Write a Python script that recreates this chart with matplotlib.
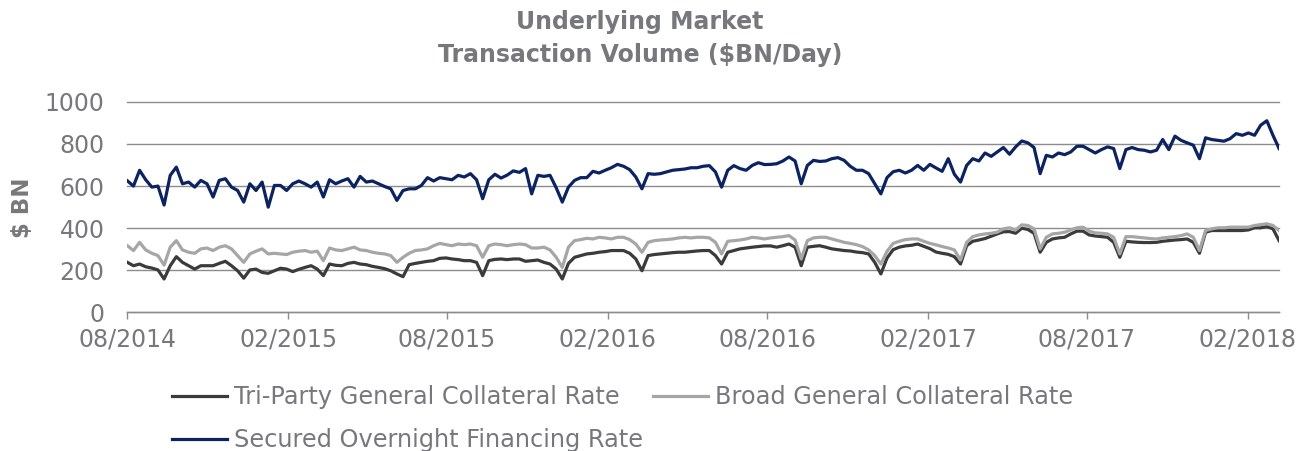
import matplotlib
matplotlib.use('Agg')
import matplotlib.pyplot as plt
import matplotlib.dates as mdates
import pandas as pd

# ---------------- data (weekly) ----------------
dates = pd.date_range('2014-08-01', '2018-03-09', freq='7D')

sofr = [625, 600, 675, 630, 595, 600, 510, 651, 690, 611, 619, 595, 627, 611, 548, 627,
        635, 595, 579, 524, 611, 579, 619, 500, 603, 603, 579, 611, 624, 611, 595, 619,
        548, 630, 611, 624, 635, 595, 646, 619, 624, 611, 598, 587, 532, 579, 587, 587,
        603, 640, 624, 640, 635, 630, 651, 643, 659, 630, 540, 630, 656, 638, 652, 672,
        665,
        683, 563, 651, 646, 651, 592, 524, 595, 627, 640, 640, 670, 662, 675, 687, 703,
        694, 678, 643, 587, 659, 656, 659, 667, 675, 678, 681, 687, 687, 694, 697, 667,
        595, 675, 697, 683, 675, 698, 711, 702, 703, 706, 719, 738, 719, 611, 698, 722,
        717, 719, 730, 735, 722, 694, 675, 675, 659, 611, 563, 640, 668, 675,
        662, 675, 698, 675, 703, 686, 670, 730, 656, 619, 698, 730, 719, 757, 741, 762,
        783, 751, 786, 814, 805, 783, 659, 746, 738, 757, 749, 762, 789, 789, 773, 757,
        773, 786, 778, 683, 773, 783, 773, 770, 762, 770, 821, 773, 837, 817, 805, 794,
        730, 829, 821, 817, 813, 825, 849, 841, 852, 841, 889, 910, 841, 778]

tgcr = [238, 222, 230, 217, 211, 202, 159, 222, 265, 238, 222, 206, 222, 222, 222, 233,
        243, 222, 198, 163, 202, 206, 190, 186, 198, 210, 206, 194, 205, 214, 222, 206,
        175, 230, 224, 222, 233, 238, 230, 227, 219, 214, 208, 198, 183, 170, 227, 233,
        238, 243, 246, 257, 259, 254, 251, 246, 246, 238, 175, 246, 252, 254, 251, 254,
        254,
        243, 246, 249, 238, 230, 206, 159, 233, 262, 270, 278, 281, 286, 289, 294, 294,
        294, 281, 254, 198, 270, 275, 278, 281, 284, 286, 286, 289, 292, 294, 294, 270,
        230, 286, 294, 302, 306, 310, 313, 316, 316, 310, 317, 325, 310, 222, 310, 314,
        317, 310, 302, 298, 294, 292, 287, 284, 278, 238, 183, 258, 298, 310,
        316, 319, 325, 314, 303, 287, 281, 276, 265, 230, 317, 338, 344, 351, 362, 373,
        383, 384, 376, 400, 394, 376, 286, 333, 349, 354, 357, 373, 386, 386, 368, 363,
        360, 357, 333, 262, 338, 335, 333, 332, 332, 333, 338, 341, 344, 346, 349, 333,
        281, 381, 389, 389, 389, 389, 389, 389, 392, 402, 402, 408, 397, 341]

bgcr = [317, 294, 333, 297, 281, 270, 225, 310, 341, 297, 286, 281, 302, 306, 294, 310,
        317, 302, 270, 238, 278, 291, 302, 278, 281, 278, 275, 286, 291, 294, 286, 291,
        246, 306, 297, 294, 302, 310, 297, 294, 286, 281, 278, 270, 238, 262, 281, 294,
        297, 302, 317, 328, 322, 317, 325, 322, 325, 317, 262, 317, 325, 322, 317, 322,
        325,
        322, 306, 306, 310, 297, 262, 214, 310, 341, 346, 352, 349, 357, 354, 349, 357,
        357, 346, 325, 286, 333, 341, 344, 346, 349, 354, 357, 354, 357, 357, 354, 333,
        278, 338, 341, 344, 349, 357, 354, 349, 354, 357, 360, 365, 344, 254, 341, 354,
        357, 357, 349, 341, 333, 328, 322, 313, 297, 270, 230, 290, 328, 338,
        346, 349, 349, 338, 328, 321, 313, 306, 297, 249, 333, 360, 368, 373, 376, 381,
        397, 402, 392, 416, 413, 397, 302, 357, 373, 376, 381, 392, 402, 405, 386, 378,
        376, 373, 357, 278, 360, 360, 357, 354, 351, 349, 354, 357, 360, 365, 373, 357,
        294, 389, 397, 402, 402, 405, 405, 405, 405, 413, 417, 421, 413, 389]

series_labels = ['Tri-Party General Collateral Rate',
                 'Broad General Collateral Rate',
                 'Secured Overnight Financing Rate']
title_lines = ['Underlying Market', r'Transaction Volume (\$BN/Day)']
y_label = r'\$ BN'
y_ticks = [0, 200, 400, 600, 800, 1000]

# ---------------- styling ----------------
TXT = '#76787b'
GRID = '#8c8c8c'
C_TRI = '#3b3b3d'
C_BROAD = '#a6a6a6'
C_SOFR = '#0b2360'

fig = plt.figure(figsize=(13.02, 4.51), dpi=100)
ax = fig.add_axes([0.0978, 0.3071, 0.8846, 0.4672])

l_tri, = ax.plot(dates, tgcr, color=C_TRI, lw=2.3, label=series_labels[0],
                 solid_joinstyle='round')
l_broad, = ax.plot(dates, bgcr, color=C_BROAD, lw=2.3, label=series_labels[1],
                   solid_joinstyle='round')
l_sofr, = ax.plot(dates, sofr, color=C_SOFR, lw=2.3, label=series_labels[2],
                  solid_joinstyle='round')

ax.set_ylim(0, 1000)
ax.set_yticks(y_ticks)
ax.set_xlim(dates[0], dates[-1])
ax.xaxis.set_major_locator(mdates.MonthLocator(bymonth=[2, 8]))
ax.xaxis.set_major_formatter(mdates.DateFormatter('%m/%Y'))

ax.grid(axis='y', color=GRID, lw=1.0)
ax.set_axisbelow(True)
for gl in ax.get_ygridlines():
    gl.set_clip_on(False)
for s in ['top', 'right', 'left']:
    ax.spines[s].set_visible(False)
ax.spines['bottom'].set_color(GRID)
ax.spines['bottom'].set_linewidth(1.0)

ax.tick_params(axis='x', colors=GRID, length=5, width=1.0, direction='out',
               labelsize=17, labelcolor=TXT, pad=6)
ax.tick_params(axis='y', length=0, labelsize=17, labelcolor=TXT, pad=16.5)

fig.text(0.4916, 1 - 22 / 451, title_lines[0], ha='center', va='center',
         fontsize=17, fontweight='bold', color=TXT)
fig.text(0.4916, 1 - 55 / 451, title_lines[1], ha='center', va='center',
         fontsize=17, fontweight='bold', color=TXT)
fig.text(22 / 1302, 1 - 208 / 451, y_label, rotation=90, ha='center', va='center',
         fontsize=16.5, fontweight='bold', color=TXT)

fig.legend([l_tri, l_sofr, l_broad],
           [series_labels[0], series_labels[2], series_labels[1]],
           ncol=2, loc='upper left', bbox_to_anchor=(0.132, 0.146),
           bbox_transform=fig.transFigure, frameon=False, fontsize=17.3,
           handlelength=2.3, handletextpad=0.3, columnspacing=0.4,
           labelspacing=0.8, borderpad=0, borderaxespad=0, labelcolor=TXT)

fig.savefig('out.png', dpi=100)
